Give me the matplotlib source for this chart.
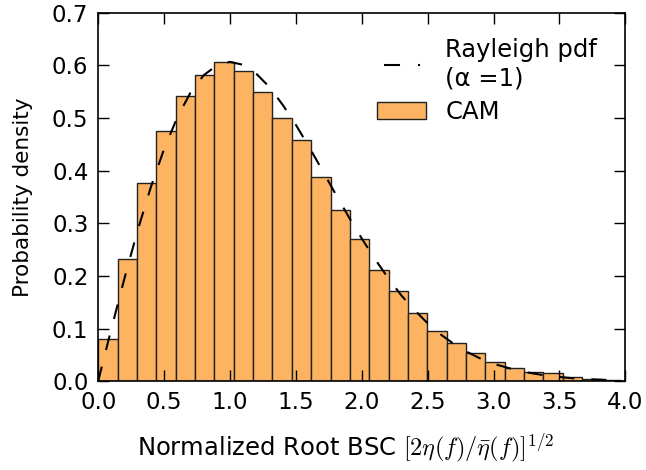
import numpy as np
import matplotlib
matplotlib.use('Agg')
import matplotlib.pyplot as plt
from matplotlib.lines import Line2D
from matplotlib.patches import Patch

plt.rcParams['mathtext.fontset'] = 'cm'

# histogram of normalized root BSC (CAM)
bin_width = 0.1469
cam_density = [0.080, 0.2325, 0.376, 0.475, 0.542, 0.582, 0.606, 0.590, 0.550,
               0.500, 0.458, 0.387, 0.326, 0.271, 0.2115, 0.171, 0.129, 0.096,
               0.0716, 0.0526, 0.0367, 0.0254, 0.0177, 0.0146, 0.0076, 0.0044,
               0.003]

# Rayleigh pdf (alpha = 1) curve
ray_x = [0.0, 0.1, 0.2, 0.3, 0.4, 0.5, 0.6, 0.7, 0.8, 0.9, 1.0, 1.1, 1.2, 1.3,
         1.4, 1.5, 1.6, 1.7, 1.8, 1.9, 2.0, 2.1, 2.2, 2.3, 2.4, 2.5, 2.6, 2.7,
         2.8, 2.9, 3.0, 3.2, 3.4, 3.6, 3.8, 3.96]
ray_y = [0.0, 0.0995, 0.196, 0.287, 0.369, 0.441, 0.501, 0.548, 0.581, 0.600,
         0.6065, 0.601, 0.584, 0.5585, 0.525, 0.487, 0.445, 0.401, 0.356, 0.3125,
         0.271, 0.232, 0.196, 0.163, 0.135, 0.110, 0.0885, 0.0705, 0.0555, 0.043,
         0.033, 0.019, 0.0105, 0.0055, 0.0028, 0.0015]

edges = np.arange(len(cam_density)) * bin_width

fig = plt.figure(figsize=(6.46, 4.70), dpi=100)
ax = fig.add_axes([0.152, 0.189, 0.816, 0.784])

ax.bar(edges, cam_density, width=bin_width, align='edge', color='#fdb462',
       edgecolor='#222222', linewidth=1.0)
ax.plot(ray_x, ray_y, color='k', lw=1.5, dashes=(7.2, 8.2))

ax.set_xlim(0, 4)
ax.set_ylim(0, 0.7)
ax.set_xticks(np.arange(0, 4.01, 0.5))
ax.set_yticks(np.arange(0, 0.71, 0.1))
ax.xaxis.set_major_formatter(matplotlib.ticker.FormatStrFormatter('%.1f'))
ax.yaxis.set_major_formatter(matplotlib.ticker.FormatStrFormatter('%.1f'))
ax.tick_params(direction='in', length=8, width=1, top=True, right=True,
               labelsize=16.5, pad=7)
for s in ax.spines.values():
    s.set_linewidth(1.2)

ax.set_xlabel(r'Normalized Root BSC $[2\eta(f)/\bar{\eta}(f)]^{1/2}$',
              fontsize=17.5)
ax.xaxis.set_label_coords(0.47, -0.135)
ax.set_ylabel('Probability density', fontsize=15.5)
ax.yaxis.set_label_coords(-0.124, 0.5)

# legend handles: dashed line shows one dash and a dot, like the original
ray_handle = Line2D([], [], color='k', lw=1.5, ls=(23.5, (7.68, 8.64, 0.96, 9.6)))
cam_handle = Patch(facecolor='#fdb462', edgecolor='#222222', linewidth=1.0)
ax.legend([ray_handle, cam_handle], ['Rayleigh pdf\n(α =1)', 'CAM'],
          loc='upper right', bbox_to_anchor=(0.988, 0.99), frameon=False,
          fontsize=17.5, handlelength=2.0, handletextpad=0.8, labelspacing=0.4)

fig.savefig('out.png', dpi=100)
